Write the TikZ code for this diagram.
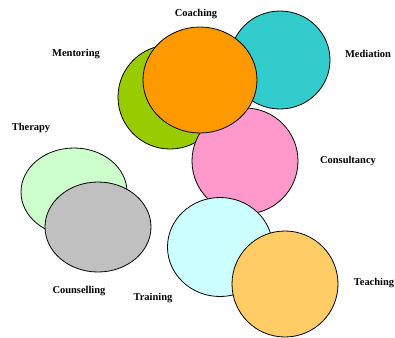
\documentclass[tikz,border=0pt]{standalone}
\usepackage{fontspec}
\setmainfont{Liberation Serif}
\usetikzlibrary{shapes.geometric}
\definecolor{cTeal}{HTML}{33CCCC}
\definecolor{cLime}{HTML}{99CC00}
\definecolor{cOrange}{HTML}{FF9900}
\definecolor{cPink}{HTML}{FF99CC}
\definecolor{cMint}{HTML}{CCFFCC}
\definecolor{cGrey}{HTML}{C0C0C0}
\definecolor{cIce}{HTML}{CCFFFF}
\definecolor{cGold}{HTML}{FFCC66}
\begin{document}
\begin{tikzpicture}[x=1bp,y=-1bp,
  blob/.style={ellipse,draw=black,line width=0.8bp,inner sep=0pt},
  tag/.style={font=\fontsize{10.5}{12}\selectfont\bfseries,inner sep=0pt}]
\useasboundingbox (0,0) rectangle (395,338);
% left pair
\node[blob,fill=cMint,minimum width=106bp,minimum height=88bp] (therapy) at (74,192) {};
\node[blob,fill=cGrey,minimum width=106bp,minimum height=90bp] (counselling) at (98,227) {};
% upper cluster
\node[blob,fill=cLime,minimum width=104bp,minimum height=104bp] (mentoring) at (170,97) {};
\node[blob,fill=cPink,minimum width=106bp,minimum height=106bp] (consultancy) at (245,161) {};
\node[blob,fill=cTeal,minimum width=100bp,minimum height=98bp] (mediation) at (280,60) {};
\node[blob,fill=cOrange,minimum width=114bp,minimum height=106bp] (coaching) at (200,80) {};
% lower pair
\node[blob,fill=cIce,minimum width=105bp,minimum height=99bp] (training) at (220,247) {};
\node[blob,fill=cGold,minimum width=106bp,minimum height=106bp] (teaching) at (285,284) {};
% labels
\node[tag] (lCoaching) at (196,14) {Coaching};
\node[tag] (lMentoring) at (76,54) {Mentoring};
\node[tag] (lMediation) at (368,54) {Mediation};
\node[tag] (lTherapy) at (31,128) {Therapy};
\node[tag] (lConsultancy) at (348,161) {Consultancy};
\node[tag] (lCounselling) at (79,291) {Counselling};
\node[tag] (lTraining) at (153,298) {Training};
\node[tag] (lTeaching) at (374,283) {Teaching};
\end{tikzpicture}
\end{document}
